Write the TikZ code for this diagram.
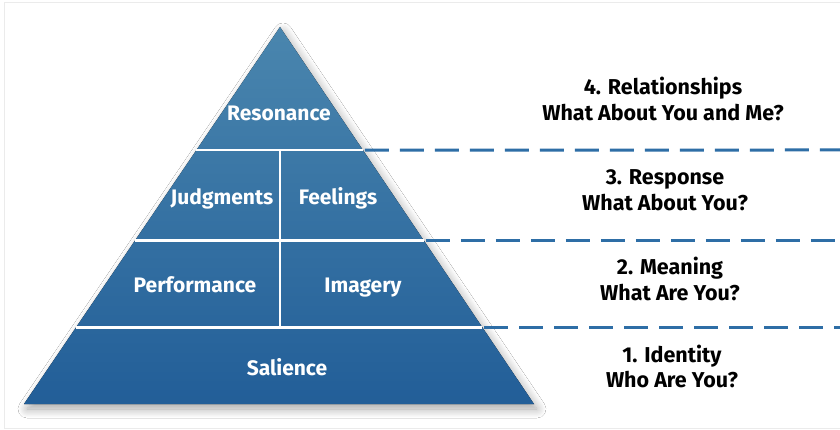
\documentclass[tikz,border=0pt]{standalone}
\usepackage{fontspec}
\setmainfont{Fira Sans}
\usetikzlibrary{calc,shadows.blur}
\definecolor{pyrtop}{RGB}{74,134,174}
\definecolor{pyrbot}{RGB}{34,94,152}
\definecolor{dashblue}{RGB}{46,110,166}
\definecolor{frame}{RGB}{235,235,235}
\tikzset{
  pyrlabel/.style={text=white, font=\fontsize{21}{24}\selectfont\bfseries, inner sep=0pt, anchor=base},
  sidelabel/.style={text=black, font=\fontsize{21.5}{26}\selectfont\bfseries, inner sep=0pt, anchor=base},
  divider/.style={white, line width=2.6pt},
  levelline/.style={dashblue, line width=3pt, dash pattern=on 24pt off 11pt}
}
\begin{document}
\begin{tikzpicture}[x=1pt,y=-1pt]
\useasboundingbox (0,0) rectangle (840,430);
\fill[white] (0,0) rectangle (840,430);
\draw[frame, line width=1pt] (845,3) -- (4,3) -- (4,428) -- (845,428);
% pyramid corners
\coordinate (A) at (280,27);
\coordinate (L) at (24,404);
\coordinate (R) at (534,404);
\fill[top color=pyrtop, bottom color=pyrbot,
  blur shadow={shadow xshift=3pt, shadow yshift=-5pt, shadow blur radius=9pt, shadow blur steps=12, shadow opacity=35}]
  (A) -- (L) -- (R) -- cycle;
% level points
\coordinate (l1) at ($(A)!0.3263!(L)$);
\coordinate (r1) at ($(A)!0.3263!(R)$);
\coordinate (l2) at ($(A)!0.5663!(L)$);
\coordinate (r2) at ($(A)!0.5663!(R)$);
\coordinate (l3) at ($(A)!0.7971!(L)$);
\coordinate (r3) at ($(A)!0.7971!(R)$);
\coordinate (m1) at (280,150);
\coordinate (m3) at (280,327.5);
\coordinate (e1) at (842,150);
\coordinate (e2) at (r2 -| e1);
\coordinate (e3) at (r3 -| e1);
% white dividers
\draw[divider] (l1) -- (r1);
\draw[divider] (l2) -- (r2);
\draw[divider] (l3) -- (r3);
\draw[divider] (m1) -- (m3);
% dashed level lines
\draw[levelline] ($(r1)+(2,0)$) -- (e1);
\draw[levelline] ($(r2)+(2,0)$) -- (e2);
\draw[levelline] ($(r3)+(2,0)$) -- (e3);
% pyramid labels
\node[pyrlabel] (res) at (279,121) {Resonance};
\node[pyrlabel] (jud) at (222,205) {Judgments};
\node[pyrlabel] (fee) at (338,205) {Feelings};
\node[pyrlabel] (per) at (195,292) {Performance};
\node[pyrlabel] (ima) at (363,292) {Imagery};
\node[pyrlabel] (sal) at (287,375) {Salience};
% side labels
\node[sidelabel] (s4a) at (663,95) {4. Relationships};
\node[sidelabel] (s4b) at (663,121) {What About You and Me?};
\node[sidelabel] (s3a) at (665,185) {3. Response};
\node[sidelabel] (s3b) at (665,211) {What About You?};
\node[sidelabel] (s2a) at (670,275) {2. Meaning};
\node[sidelabel] (s2b) at (670,300) {What Are You?};
\node[sidelabel] (s1a) at (672,362) {1. Identity};
\node[sidelabel] (s1b) at (672,387) {Who Are You?};
\end{tikzpicture}
\end{document}
